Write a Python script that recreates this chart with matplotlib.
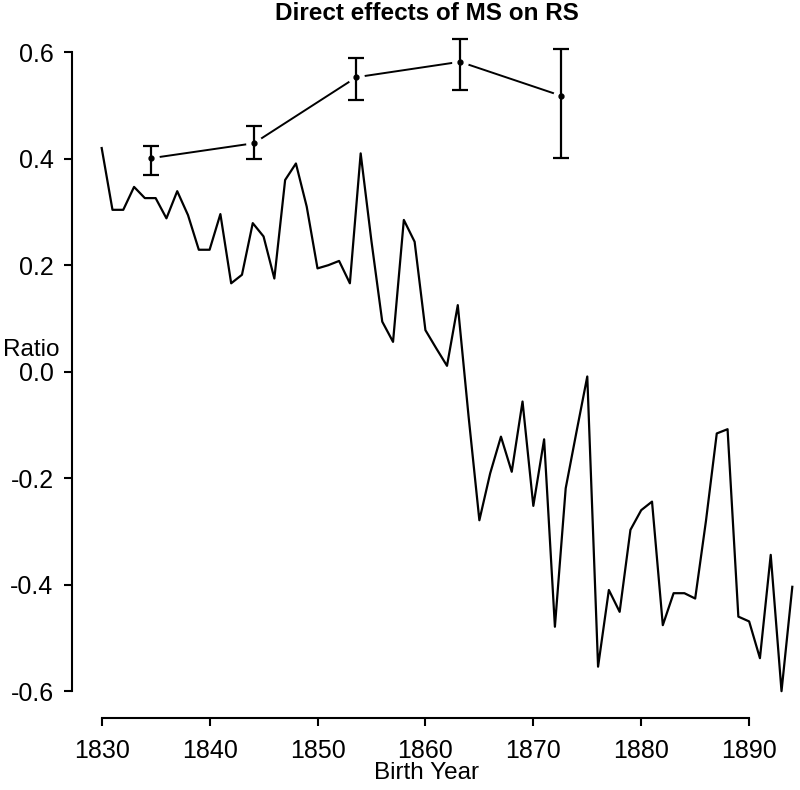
import numpy as np
import matplotlib
matplotlib.use('Agg')
import matplotlib.pyplot as plt

plt.rcParams['font.family'] = ['Liberation Sans', 'DejaVu Sans']

# yearly ratio series
years = list(range(1830, 1895))
ratio = [0.420, 0.304, 0.304, 0.347, 0.326, 0.326, 0.288, 0.339, 0.294, 0.229,
         0.229, 0.296, 0.166, 0.182, 0.279, 0.254, 0.175, 0.360, 0.391, 0.310,
         0.194, 0.200, 0.208, 0.166, 0.410, 0.245, 0.094, 0.056, 0.285, 0.244,
         0.078, 0.044, 0.011, 0.125, -0.084, -0.279, -0.191, -0.122, -0.188, -0.056,
         -0.252, -0.127, -0.479, -0.219, -0.113, -0.009, -0.554, -0.410, -0.451, -0.297,
         -0.260, -0.244, -0.476, -0.416, -0.416, -0.426, -0.280, -0.116, -0.108, -0.460,
         -0.469, -0.538, -0.344, -0.600, -0.404]

# direct effect estimates with intervals
eff_x = [1834.6, 1844.1, 1853.6, 1863.2, 1872.6]
eff_y = [0.401, 0.429, 0.553, 0.582, 0.518]
eff_lo = [0.369, 0.399, 0.510, 0.529, 0.402]
eff_hi = [0.424, 0.462, 0.589, 0.624, 0.606]

xticks = [1830, 1840, 1850, 1860, 1870, 1880, 1890]
yticks = [-0.6, -0.4, -0.2, 0.0, 0.2, 0.4, 0.6]

fig = plt.figure(figsize=(8, 7.9), dpi=100)
ax = fig.add_axes([85.5/800, (790-717.8)/790, 712.2/800, (717.8-30.9)/790])
ax.set_xlim(1828.5, 1894.5)
ax.set_ylim(-0.65, 0.64)

ax.plot(years, ratio, color='black', lw=1.6, zorder=2)

ey = np.array(eff_y)
ax.plot(eff_x, eff_y, color='black', lw=1.4, zorder=2)
ax.plot(eff_x, eff_y, 'o', ms=11, color='white', mec='white', zorder=3)
ax.errorbar(eff_x, eff_y, yerr=[ey - np.array(eff_lo), np.array(eff_hi) - ey],
            fmt='none', ecolor='black', elinewidth=1.6, capsize=6, capthick=1.6, zorder=4)
ax.plot(eff_x, eff_y, 'o', ms=3.5, color='black', zorder=5)

for s in ['top', 'right']:
    ax.spines[s].set_visible(False)
ax.spines['left'].set_position(('outward', 10))
ax.spines['left'].set_bounds(-0.6, 0.6)
ax.spines['bottom'].set_bounds(1830, 1890)
ax.spines['left'].set_linewidth(1.5)
ax.spines['bottom'].set_linewidth(1.5)

ax.set_xticks(xticks)
ax.set_yticks(yticks)
ax.set_yticklabels(['-0.6', '-0.4', '-0.2', '0.0', '0.2', '0.4', '0.6'])
ax.tick_params(axis='both', length=6, width=1.5, labelsize=18)
ax.tick_params(axis='x', pad=9)
ax.tick_params(axis='y', pad=7)

fig.text(426.5/800, 1 - 13/790, 'Direct effects of MS on RS', ha='center', va='center',
         fontsize=17.5, fontweight='bold')
fig.text(426.5/800, 1 - 773/790, 'Birth Year', ha='center', va='center', fontsize=17.5)
fig.text(3/800, 1 - 350/790, 'Ratio', ha='left', va='center', fontsize=17.5)

fig.savefig('out.png', dpi=100)
